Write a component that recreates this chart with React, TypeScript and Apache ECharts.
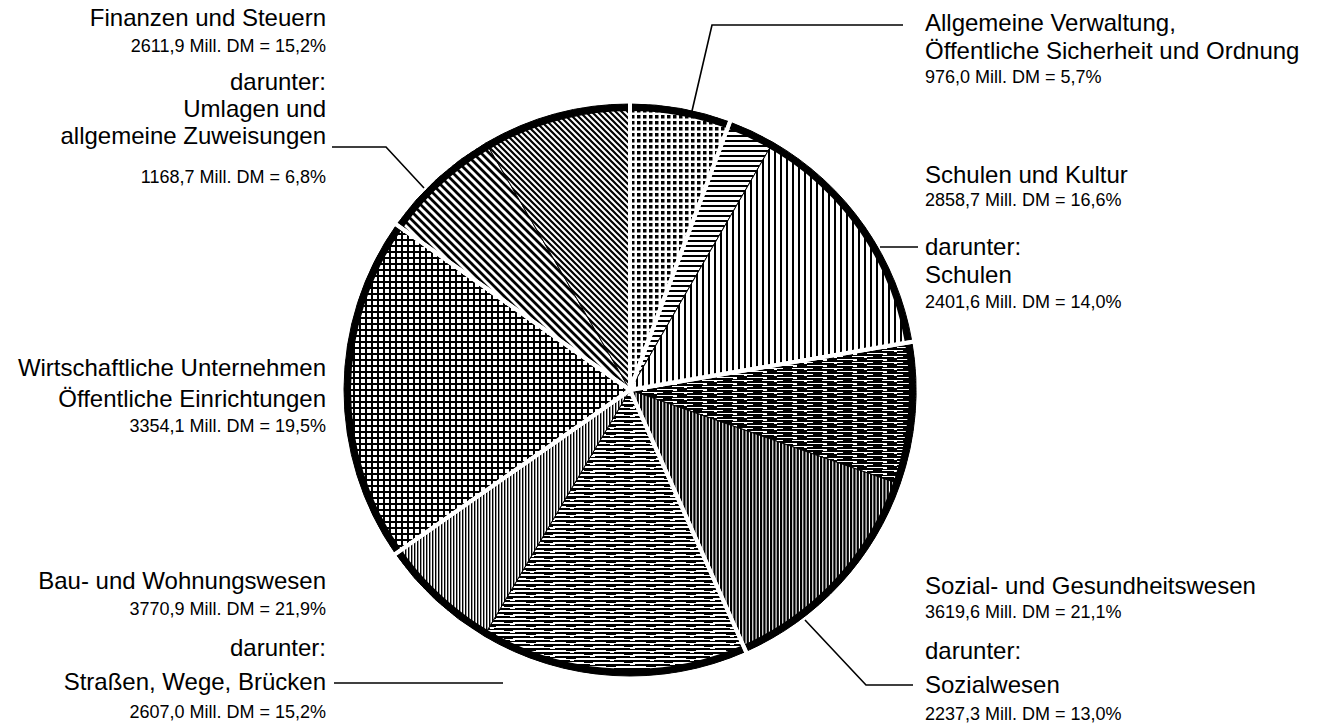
import React, { useEffect, useRef } from 'react';
import * as echarts from 'echarts';

// ---- data ----
const groupTitles: string[][] = [
  ['Allgemeine Verwaltung,', 'Öffentliche Sicherheit und Ordnung'],
  ['Schulen und Kultur'],
  ['Sozial- und Gesundheitswesen'],
  ['Bau- und Wohnungswesen'],
  ['Wirtschaftliche Unternehmen', 'Öffentliche Einrichtungen'],
  ['Finanzen und Steuern'],
];
const groupAmounts = [976.0, 2858.7, 3619.6, 3770.9, 3354.1, 2611.9];
const groupPercents = [5.7, 16.6, 21.1, 21.9, 19.5, 15.2];
const subTitles: (string[] | null)[] = [
  null,
  ['Schulen'],
  ['Sozialwesen'],
  ['Straßen, Wege, Brücken'],
  null,
  ['Umlagen und', 'allgemeine Zuweisungen'],
];
const subAmounts: (number | null)[] = [null, 2401.6, 2237.3, 2607.0, null, 1168.7];
const subPercents: (number | null)[] = [null, 14.0, 13.0, 15.2, null, 6.8];
const subFirst = [false, false, false, true, false, true];
const subIntro = 'darunter:';
const unitText = 'Mill. DM';

// ---- layout / style ----
const CX = 630, CY = 390, R = 286;
const RING = 7;
const SEP = 4;
const FONT = '"Liberation Sans", Arial, Helvetica, sans-serif';
const BIG = 24;
const SMALL = 18;

const fmt = (n: number) => n.toFixed(1).replace('.', ',');
const amountLine = (a: number, p: number) => `${fmt(a)} ${unitText} = ${fmt(p)}%`;

function tile(w: number, h: number, draw: (ctx: CanvasRenderingContext2D) => void) {
  const c = document.createElement('canvas');
  c.width = w; c.height = h;
  const ctx = c.getContext('2d')!;
  ctx.fillStyle = '#fff'; ctx.fillRect(0, 0, w, h);
  ctx.fillStyle = '#000'; ctx.strokeStyle = '#000';
  draw(ctx);
  return { image: c, repeat: 'repeat', imageWidth: w, imageHeight: h } as any;
}
function diag(s: number, lw: number) {
  return tile(s, s, (ctx) => {
    ctx.lineWidth = lw;
    ctx.beginPath();
    for (const k of [-s, 0, s]) { ctx.moveTo(k - s, -s); ctx.lineTo(k + 2 * s, 2 * s); }
    ctx.stroke();
  });
}

function buildPatterns() {
  const dots = tile(6, 6, (c) => c.fillRect(1, 1, 3.5, 3.5));
  const hLines = tile(8, 5, (c) => c.fillRect(0, 0, 8, 2));
  const vLines = tile(6, 8, (c) => c.fillRect(0, 0, 2, 8));
  const hDark = tile(30, 6, (c) => {
    c.fillRect(0, 0, 30, 2); c.fillRect(0, 3, 30, 2);
    c.fillRect(3, 2, 9, 1); c.fillRect(17, 5, 10, 1);
    c.fillStyle = '#fff'; c.fillRect(13, 0, 4, 1); c.fillRect(24, 3, 3, 1);
  });
  const vDense = tile(10, 8, (c) => { [0, 3.33, 6.67].forEach((x) => c.fillRect(x, 0, 2.2, 8)); });
  const hStreets = tile(40, 8, (c) => {
    c.fillRect(0, 0, 40, 2); c.fillRect(0, 4, 40, 2);
    c.fillRect(6, 2, 10, 1); c.fillRect(24, 6, 9, 1);
    c.fillStyle = '#fff'; c.fillRect(30, 0, 5, 1); c.fillRect(10, 4, 4, 1);
  });
  const vFine = tile(6, 8, (c) => { c.fillRect(0, 0, 1.4, 8); c.fillRect(3, 0, 1.4, 8); });
  const checker = tile(6, 6, (c) => { c.fillRect(0, 0, 6, 6); c.fillStyle = '#fff'; c.fillRect(1, 1, 4, 4); });
  const diagThick = diag(8, 2.8);
  const diagFine = diag(6, 2.2);
  return [
    [dots],
    [hLines, vLines],
    [hDark, vDense],
    [hStreets, vFine],
    [checker],
    [diagThick, diagFine],
  ];
}

type Block = { g: number; x: number; align: 'left' | 'right'; ys: number[]; leader?: number[][] };
const blocks: Block[] = [
  { g: 5, x: 326, align: 'right', ys: [17, 46, 81, 108, 135, 177], leader: [[332, 147], [386, 147], [424, 188]] },
  { g: 0, x: 925, align: 'left', ys: [22, 50, 77], leader: [[692, 111], [712, 25], [903, 25]] },
  { g: 1, x: 925, align: 'left', ys: [174, 200, 246, 274, 302], leader: [[880, 247], [918, 247]] },
  { g: 4, x: 326, align: 'right', ys: [367, 398, 426] },
  { g: 3, x: 326, align: 'right', ys: [580, 609, 647, 681, 712], leader: [[334, 683], [503, 683]] },
  { g: 2, x: 925, align: 'left', ys: [585, 612, 650, 684, 714], leader: [[805, 620], [866, 685], [913, 685]] },
];

function textEl(t: string, x: number, y: number, size: number, align: string) {
  return {
    type: 'text', z: 100, silent: true,
    style: {
      text: t, x, y, fill: '#000', font: `${size}px ${FONT}`,
      align, textAlign: align, verticalAlign: 'middle', textVerticalAlign: 'middle',
    },
  };
}

function buildGraphics() {
  const els: any[] = [];
  blocks.forEach((b) => {
    const g = b.g;
    const lines: { t: string; s: number }[] = [];
    groupTitles[g].forEach((t) => lines.push({ t, s: BIG }));
    lines.push({ t: amountLine(groupAmounts[g], groupPercents[g]), s: SMALL });
    const st = subTitles[g];
    if (st) {
      lines.push({ t: subIntro, s: BIG });
      st.forEach((t) => lines.push({ t, s: BIG }));
      lines.push({ t: amountLine(subAmounts[g] as number, subPercents[g] as number), s: SMALL });
    }
    lines.forEach((l, i) => els.push(textEl(l.t, b.x, b.ys[i], l.s, b.align)));
    if (b.leader) {
      els.push({
        type: 'polyline', z: 100, silent: true,
        shape: { points: b.leader },
        style: { stroke: '#000', lineWidth: 1.6, fill: null },
      });
    }
  });
  return els;
}

export default function App() {
  const ref = useRef<HTMLDivElement>(null);
  useEffect(() => {
    if (!ref.current) return;
    const chart = echarts.init(ref.current, undefined, { renderer: 'svg' });
    const P = buildPatterns();
    const slices: any[] = [];
    groupAmounts.forEach((amt, g) => {
      const sub = subAmounts[g];
      if (sub == null) {
        slices.push({ value: amt, itemStyle: { color: P[g][0], borderColor: '#000', borderWidth: 1 } });
      } else {
        const rest = amt - sub;
        const parts = subFirst[g] ? [sub, rest] : [rest, sub];
        parts.forEach((v, i) => slices.push({ value: v, itemStyle: { color: P[g][i], borderColor: '#000', borderWidth: 1 } }));
      }
    });
    const groups = groupAmounts.map((v) => ({ value: v }));
    const common = {
      type: 'pie', center: [CX, CY], startAngle: 90, clockwise: true, silent: true,
      avoidLabelOverlap: false, label: { show: false }, labelLine: { show: false },
      emphasis: { disabled: true },
    };
    chart.setOption({
      animation: false,
      backgroundColor: '#fff',
      series: [
        { ...common, radius: [0, R], data: slices },
        { ...common, radius: [R - RING, R], data: groups, itemStyle: { color: '#000', borderWidth: 0 } },
        {
          ...common, radius: [0, R + 14], data: groups,
          itemStyle: { color: 'rgba(0,0,0,0)', borderColor: '#fff', borderWidth: SEP },
        },
      ],
      graphic: buildGraphics(),
    });
    return () => chart.dispose();
  }, []);
  return <div ref={ref} style={{ position: 'absolute', left: 0, top: 0, width: 1330, height: 726 }} />;
}
